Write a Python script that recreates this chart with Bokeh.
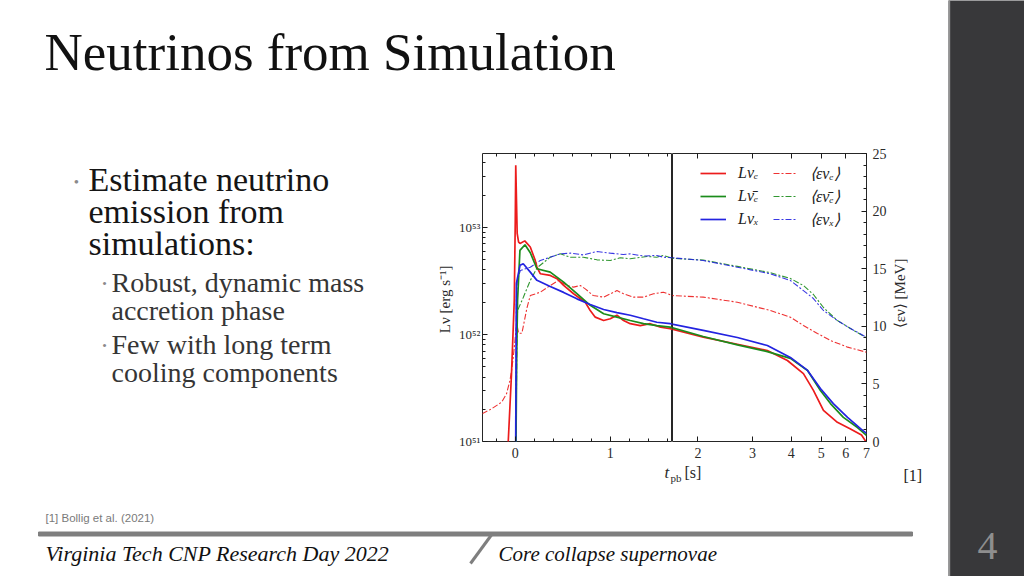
import numpy as np
from math import pi
from bokeh.plotting import figure
from bokeh.layouts import row, column
from bokeh.models import (Range1d, LinearScale, LinearAxis, LogAxis, FixedTicker,
                          CustomJSTickFormatter, Label, Legend, LegendItem)
from bokeh.embed import file_html
from bokeh.resources import INLINE

# ---------------- chart data ----------------
# time after bounce [s]; luminosities in units of 1e51 erg/s; mean energies in MeV
t_L_nue = [-0.12, -0.074, -0.04, -0.0105, 0.0, 0.005, 0.02, 0.035, 0.05, 0.1, 0.158, 0.21,
           0.228, 0.263, 0.368, 0.439, 0.509, 0.614, 0.737, 0.789, 0.842, 0.93, 1.0, 1.07,
           1.14, 1.21, 1.316, 1.42, 1.53, 1.63, 2.08, 2.68, 3.35, 3.888, 4.38, 4.718,
           5.083, 5.637, 6.215, 6.745, 7.0]
L_nue = [0.32, 1.0, 4.23, 20.8, 116, 380, 87.9, 72.9, 70.8, 74.8, 65.5, 49.2,
         42.6, 36.9, 35.6, 33.2, 28.7, 24.0, 20.0, 16.7, 14.5, 13.5, 14.0, 15.1,
         13.5, 12.6, 12.1, 12.6, 11.7, 11.3, 9.44, 8.1, 7.08, 5.71, 4.30, 3.0,
         1.95, 1.51, 1.31, 1.15, 0.98]

t_L_anue = [0.006, 0.015, 0.024, 0.049, 0.102, 0.158, 0.228, 0.368, 0.509, 0.649, 0.789,
            0.93, 1.07, 1.21, 1.35, 1.49, 1.63, 2.08, 2.68, 3.35, 3.975, 4.517, 4.97,
            5.355, 5.894, 6.547, 7.0]
L_anue = [0.63, 6.3, 20.8, 61.0, 68.9, 58.0, 41.1, 38.2, 30.8, 24.0, 18.7,
          15.6, 14.5, 13.5, 12.6, 12.1, 11.7, 9.57, 8.0, 6.9, 5.97, 4.61, 3.0,
          2.26, 1.68, 1.35, 1.14]

t_L_nux = [0.003, 0.012, 0.05, 0.084, 0.158, 0.228, 0.368, 0.509, 0.649, 0.789, 0.93,
           1.07, 1.21, 1.35, 1.49, 1.63, 2.08, 2.68, 3.35, 3.975, 4.517, 4.97, 5.47,
           6.08, 6.695, 7.0]
L_nux = [0.5, 30.0, 44.2, 45.7, 38.2, 32.0, 28.0, 24.7, 21.5, 19.05, 17.1,
         16.0, 15.1, 14.0, 13.0, 12.6, 10.9, 9.37, 7.89, 6.1, 4.61, 3.13, 2.26,
         1.68, 1.32, 1.19]

t_E_nue = [-0.35, -0.249, -0.144, -0.092, -0.056, -0.039, -0.021, -0.003, 0.014, 0.035,
           0.07, 0.123, 0.158, 0.263, 0.368, 0.456, 0.544, 0.614, 0.684, 0.737, 0.82,
           0.93, 1.07, 1.14, 1.245, 1.35, 1.456, 1.56, 1.656, 2.08, 2.68, 3.425, 3.975,
           4.38, 4.86, 5.355, 6.08, 7.0]
E_nue = [2.4, 2.84, 3.41, 4.14, 5.3, 6.16, 7.32, 8.77, 10.3, 9.4,
         9.4, 11.6, 12.67, 12.96, 13.54, 13.98, 13.54, 13.4, 13.54, 13.25, 12.67,
         12.53, 13.1, 12.82, 12.53, 12.53, 12.82, 12.96, 12.67, 12.53, 12.09, 11.37, 10.79,
         10.07, 9.38, 8.77, 8.19, 7.75]

t_E_anue = [0.008, 0.018, 0.024, 0.084, 0.158, 0.232, 0.368, 0.474, 0.579, 0.716,
            0.86, 1.0, 1.105, 1.21, 1.386, 1.49, 1.558, 1.656, 2.08, 2.68, 3.425, 3.975,
            4.38, 4.718, 5.083, 5.637, 6.215, 7.0]
E_anue = [0.0, 9.5, 11.37, 12.5, 13.98, 15.1, 16.0, 16.29, 16.0, 16.0,
          15.77, 15.71, 15.95, 15.86, 16.06, 16.0, 16.15, 15.9, 15.75, 15.2, 14.65, 14.15,
          13.54, 12.76, 11.63, 10.5, 9.81, 9.0]

t_E_nux = [0.004, 0.012, 0.021, 0.053, 0.158, 0.263, 0.474, 0.579, 0.716, 0.86, 1.0,
           1.137, 1.21, 1.35, 1.49, 1.558, 1.656, 2.08, 2.68, 3.425, 3.975, 4.38, 4.718,
           5.083, 5.637, 6.215, 7.0]
E_nux = [0.0, 12.5, 13.98, 14.84, 15.13, 15.71, 16.29, 16.35, 16.2, 16.49, 16.35,
         16.23, 16.29, 16.1, 16.15, 16.0, 15.95, 15.71, 15.13, 14.56, 13.98, 13.1, 12.41,
         11.37, 10.5, 9.81, 9.05]

x_ticks_lin = [0, 1]
x_minor_lin = [-0.2, 0.2, 0.4, 0.6, 0.8, 1.2, 1.4, 1.6]
x_ticks_log = [2, 3, 4, 5, 6, 7]
E_ticks = [0, 5, 10, 15, 20, 25]
E_minor = [v for v in range(1, 25) if v % 5]
L_ticks = [1e51, 1e52, 1e53]
L_minor = [m * 10.0 ** d for d in (51, 52) for m in range(2, 10)] + [2e53, 3e53, 4e53]
t_break = 1.655          # linear axis to the left, logarithmic to the right
L_max = 10 ** 53.69

legend_L = ["L\u03bd\u2091", "L\u03bd\u0304\u2091", "L\u03bd\u2093"]
legend_E = ["\u27e8\u03b5\u03bd\u2091\u27e9", "\u27e8\u03b5\u03bd\u0304\u2091\u27e9", "\u27e8\u03b5\u03bd\u2093\u27e9"]
colors = ["#ec1c1c", "#1b8c1b", "#2323e0"]
y_title = "L\u03bd  [erg s\u207b\u00b9]"
y2_title = "\u27e8\u03b5\u03bd\u27e9 [MeV]"

# ---------------- slide text ----------------
title = "Neutrinos from Simulation"
bullets = ["Estimate neutrino", "emission from", "simulations:"]
sub_bullets = [["Robust, dynamic mass", "accretion phase"], ["Few with long term", "cooling components"]]
footnote = "[1] Bollig et al. (2021)"
ref_mark = "[1]"
footer_left = "Virginia Tech CNP Research Day 2022"
footer_right = "Core collapse supernovae"
page_num = "4"

SERIF = "Liberation Serif"
BAR = "#38383a"


def panel(x0, x1, y0, y1, bg="white"):
    p = figure(width=x1 - x0, height=y1 - y0, x_range=Range1d(x0, x1), y_range=Range1d(y1, y0),
               x_axis_location=None, y_axis_location=None, output_backend="svg",
               toolbar_location=None, min_border=0)
    p.grid.visible = False
    p.outline_line_color = None
    p.background_fill_color = bg
    p.border_fill_color = bg
    return p


def txt(p, x, y, s, size, color="#111111", style="normal", font=SERIF, align="left", angle=0):
    p.add_layout(Label(x=x, y=y, text=s, text_font=font, text_font_size=size,
                       text_font_style=style, text_color=color, text_baseline="middle",
                       text_align=align, angle=angle))


# top
top = panel(0, 948, 0, 145)
txt(top, 44, 51, title, "53px", "#111111")

# left (bullets)
left = panel(0, 430, 145, 495)
ys = [179, 211, 243]
left.add_layout(Label(x=76, y=181, text="\u2022", text_font=SERIF, text_font_size="15px",
                      text_color="#8a8a8a", text_baseline="middle", text_align="center"))
for s, y in zip(bullets, ys):
    txt(left, 88, y, s, "34px", "#151515")
sub_y = [[282, 310], [344, 372]]
for lines, yy in zip(sub_bullets, sub_y):
    left.add_layout(Label(x=104, y=yy[0] + 1, text="\u2022", text_font=SERIF, text_font_size="13px",
                          text_color="#8a8a8a", text_baseline="middle", text_align="center"))
    for s, y in zip(lines, yy):
        txt(left, 111, y, s, "28px", "#353535")

gap = panel(925, 948, 145, 495)

# bottom
bottom = panel(0, 948, 495, 576)
txt(bottom, 45, 517, footnote, "11.5px", "#7a7a7a", font="Liberation Sans")
bottom.quad(left=38, right=912, top=531.5, bottom=535.5, color="#7f7f7f")
bottom.segment(x0=[492], y0=[533], x1=[470], y1=[563], line_color="#7f7f7f", line_width=3)
txt(bottom, 45, 553, footer_left, "22px", "#111111", style="italic")
txt(bottom, 498, 553, footer_right, "21px", "#111111", style="italic")

# slide side bar, one piece for the full height
side = panel(948, 1024, 0, 576, bg=BAR)
side.quad(left=946, right=949.2, top=-5, bottom=581, color="#9a9a9a")
txt(side, 987, 545, page_num, "40px", "#8e8e8e", align="center")

# ---------------- chart ----------------
yr = Range1d(1e51, L_max)


def chart_fig(width, xr, xtype, bl, br):
    p = figure(width=width, height=319, x_range=xr, y_range=yr, x_axis_type=xtype,
               y_axis_type="log", extra_y_ranges={"E": Range1d(0, 25)},
               extra_y_scales={"E": LinearScale()}, x_axis_location=None,
               y_axis_location=None, output_backend="svg", toolbar_location=None,
               min_border_left=bl, min_border_right=br, min_border_top=8,
               min_border_bottom=23)
    p.grid.visible = False
    p.outline_line_color = "#262626"
    p.outline_line_width = 1.0
    p.background_fill_color = "white"
    p.border_fill_color = "white"
    return p


def style_axis(ax, size="14px"):
    ax.axis_line_color = None
    ax.major_tick_in = 5
    ax.major_tick_out = 0
    ax.minor_tick_in = 3
    ax.minor_tick_out = 0
    ax.major_tick_line_color = "#1a1a1a"
    ax.minor_tick_line_color = "#1a1a1a"
    ax.major_label_text_font = SERIF
    ax.major_label_text_font_size = size
    ax.major_label_text_color = "#2a2a2a"
    ax.axis_label_text_font = SERIF
    ax.axis_label_text_font_style = "normal"
    ax.axis_label_text_color = "#2a2a2a"


blank = CustomJSTickFormatter(code="return '';")
sup_fmt = CustomJSTickFormatter(code="""
const s = {"0":"\u2070","1":"\u00b9","2":"\u00b2","3":"\u00b3","4":"\u2074","5":"\u2075","6":"\u2076","7":"\u2077","8":"\u2078","9":"\u2079"};
const e = Math.round(Math.log10(tick));
return "10" + String(e).split("").map(c => s[c]).join("");
""")
int_fmt = CustomJSTickFormatter(code="return tick.toFixed(0);")

figL = chart_fig(242, Range1d(t_break - 2.0, t_break), "linear", 52, 0)
figR = chart_fig(218, Range1d(t_break, 7.0), "log", 0, 24)

# axes of the linear part
axL = LogAxis(ticker=FixedTicker(ticks=L_ticks, minor_ticks=L_minor), formatter=sup_fmt,
              axis_label=y_title)
style_axis(axL, "13px")
axL.axis_label_text_font_size = "15px"
axL.axis_label_standoff = 3
axL.major_label_standoff = 2
figL.add_layout(axL, "left")
for loc in ("below", "above"):
    ax = LinearAxis(ticker=FixedTicker(ticks=x_ticks_lin, minor_ticks=x_minor_lin),
                    formatter=int_fmt if loc == "below" else blank)
    style_axis(ax)
    ax.major_label_standoff = 6 if loc == "below" else 0
    figL.add_layout(ax, loc)

# axes of the logarithmic part
for loc in ("below", "above"):
    ax = LogAxis(ticker=FixedTicker(ticks=x_ticks_log, minor_ticks=[]),
                 formatter=int_fmt if loc == "below" else blank)
    style_axis(ax)
    ax.major_label_standoff = 6 if loc == "below" else 0
    figR.add_layout(ax, loc)
axE = LinearAxis(y_range_name="E", ticker=FixedTicker(ticks=E_ticks, minor_ticks=E_minor),
                 formatter=int_fmt)
style_axis(axE)
axE.major_label_standoff = 6
figR.add_layout(axE, "right")

L_series = [(t_L_nue, L_nue), (t_L_anue, L_anue), (t_L_nux, L_nux)]
E_series = [(t_E_nue, E_nue), (t_E_anue, E_anue), (t_E_nux, E_nux)]

rend_L, rend_E = [], []
for fig, keep in ((figL, lambda t: t <= 2.1), (figR, lambda t: t >= 1.5)):
    for (tt, vv), c in zip(E_series, colors):
        tt = np.asarray(tt, float)
        m = keep(tt)
        r = fig.line(tt[m], np.asarray(vv, float)[m], y_range_name="E", line_color=c,
                     line_width=1.1, line_dash="6 2 2 2", line_alpha=0.9)
        if fig is figR:
            rend_E.append(r)
    for (tt, vv), c in zip(L_series, colors):
        tt = np.asarray(tt, float)
        m = keep(tt)
        r = fig.line(tt[m], np.asarray(vv, float)[m] * 1e51, line_color=c, line_width=1.7)
        if fig is figR:
            rend_L.append(r)


def make_legend(labels, rends, x, gw, standoff):
    lg = Legend(items=[LegendItem(label=l, renderers=[r]) for l, r in zip(labels, rends)],
                location=(x, 212), glyph_width=gw, glyph_height=20, label_height=20,
                label_standoff=standoff, spacing=3, padding=0, margin=0,
                border_line_color=None, background_fill_alpha=0,
                label_text_font=SERIF, label_text_font_size="16px",
                label_text_font_style="italic", label_text_color="#222222")
    figR.add_layout(lg)


make_legend(legend_L, rend_L, 28, 26, 12)
make_legend(legend_E, rend_E, 101, 24, 13)

# right-hand axis title strip (reads bottom to top)
ytitle2 = panel(890, 925, 145, 464)
txt(ytitle2, 899, 300, y2_title, "15px", "#2a2a2a", align="center", angle=pi / 2)

xlabel = panel(430, 925, 464, 495)
txt(xlabel, 664, 472, "t", "17px", "#2a2a2a", style="italic")
txt(xlabel, 670, 477, "pb", "11px", "#2a2a2a")
txt(xlabel, 684, 472, "[s]", "16px", "#2a2a2a")
txt(xlabel, 903, 475, ref_mark, "16px", "#222222")

chart = column(row(figL, figR, ytitle2, spacing=0), xlabel, spacing=0)
middle = row(left, chart, gap, spacing=0)
main = column(top, middle, bottom, spacing=0)
page = row(main, side, spacing=0)

open("out.html", "w").write(file_html(page, INLINE))
